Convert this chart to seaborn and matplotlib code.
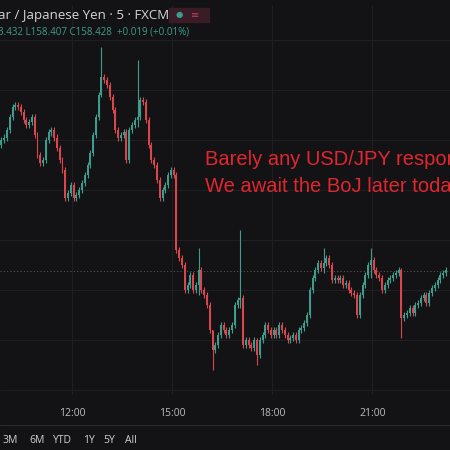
import numpy as np
import matplotlib.pyplot as plt
import seaborn as sns

# close prices of the 5 min bars (USD/JPY)
closes = [
    158.95, 158.96, 158.99, 159.04, 159.08, 159.09, 159.08, 159.06, 159.03, 159.01,
    159.02, 159.04, 158.97, 158.89, 158.86, 158.87, 158.95, 158.98, 158.99, 158.96,
    158.92, 158.87, 158.83, 158.72, 158.74, 158.77, 158.72, 158.73, 158.75, 158.78,
    158.81, 158.85, 158.90, 158.97, 159.04, 159.13, 159.20, 159.19, 159.17, 159.12,
    159.07, 158.99, 158.96, 158.97, 158.98, 158.87, 158.99, 159.01, 159.03, 159.04,
    159.11, 159.10, 159.03, 158.93, 158.87, 158.85, 158.79, 158.72, 158.75, 158.77,
    158.81, 158.83, 158.81, 158.51, 158.48, 158.45, 158.35, 158.37, 158.41, 158.35,
    158.37, 158.43, 158.35, 158.33, 158.29, 158.19, 158.11, 158.13, 158.17, 158.21,
    158.19, 158.17, 158.19, 158.21, 158.29, 158.31, 158.32, 158.13, 158.15, 158.13,
    158.12, 158.15, 158.09, 158.15, 158.17, 158.21, 158.19, 158.17, 158.19, 158.17,
    158.21, 158.19, 158.17, 158.15, 158.16, 158.17, 158.15, 158.19, 158.20, 158.22,
    158.25, 158.35, 158.40, 158.43, 158.46, 158.44, 158.46, 158.48, 158.45, 158.39,
    158.40, 158.39, 158.40, 158.37, 158.38, 158.35, 158.34, 158.33, 158.25, 158.33,
    158.37, 158.41, 158.45, 158.47, 158.43, 158.41, 158.40, 158.35, 158.37, 158.39,
    158.40, 158.41, 158.42, 158.43, 158.24, 158.25, 158.26, 158.28, 158.26, 158.29,
    158.30, 158.32, 158.33, 158.30, 158.34, 158.36, 158.37, 158.39, 158.41, 158.42,
    158.43,
]
first_open = 158.93
# bars with long wicks: index -> (high, low)
spikes = {36: (159.32, 159.12), 49: (159.27, 159.00), 71: (158.52, 158.33),
          86: (158.59, 158.28), 76: (158.19, 158.03), 116: (158.52, 158.42),
          133: (158.52, 158.40), 92: (158.16, 158.05), 144: (158.44, 158.16)}
last_price = 158.428
time_ticks = [25.5, 61.5, 97.5, 133.5]
time_labels = ["12:00", "15:00", "18:00", "21:00"]
range_buttons = ["3M", "6M", "YTD", "1Y", "5Y", "All"]

bg = "#131315"
up_col = "#3e9c8e"
down_col = "#d9464c"

sns.set_style("dark", {"axes.facecolor": bg, "figure.facecolor": bg})
plt.rcParams["font.family"] = ["Open Sans", "DejaVu Sans"]

fig = plt.figure(figsize=(4.5, 4.5), dpi=100)
ax = fig.add_axes([0, 0.122, 1, 0.867])
ax.set_facecolor(bg)

c = np.array(closes)
o = np.concatenate([[first_open], c[:-1]])
hi = np.maximum(o, c) + 0.012
lo = np.minimum(o, c) - 0.012
for k, (h, l) in spikes.items():
    hi[k] = h
    lo[k] = l
idx = np.arange(len(c))
cols = [up_col if cc >= oo else down_col for oo, cc in zip(o, c)]

for gy in np.arange(157.95, 159.5, 0.2):
    ax.axhline(gy, color="#1f1f23", lw=0.8, zorder=0)
for t in time_ticks:
    ax.axvline(t, color="#1f1f23", lw=0.8, zorder=0)
ax.axhline(last_price, color="#555558", lw=0.8, ls=(0, (1, 2)), zorder=0)

ax.vlines(idx, lo, hi, colors=cols, lw=0.8, zorder=2)
body = np.maximum(np.abs(c - o), 0.004)
ax.bar(idx, body, bottom=np.minimum(o, c), width=0.7, color=cols, zorder=3, linewidth=0)

ax.set_xlim(-0.5, 161.5)
ax.set_ylim(157.93, 159.49)
ax.set_xticks([])
ax.set_yticks([])
for s in ax.spines.values():
    s.set_visible(False)

# annotation (pixel coords from the bottom-left of the figure)
fig.text(205 / 450, 1 - 165 / 450, "Barely any USD/JPY response", color="#e0262e",
         fontsize=14.5, va="baseline", family=["Liberation Sans", "DejaVu Sans"])
fig.text(205 / 450, 1 - 192 / 450, "We await the BoJ later today", color="#e0262e",
         fontsize=14.5, va="baseline", family=["Liberation Sans", "DejaVu Sans"])

# header
fig.text(-0.005, 0.965, "ar / Japanese Yen · 5 · FXCM", color="#d6d6d6", fontsize=9.5, va="center")
fig.text(-0.005, 0.93, "3.432 L158.407 C158.428  +0.019 (+0.01%)", color="#3e9c8e", fontsize=7, va="center")
fig.patches.append(plt.Rectangle((0.375, 0.952), 0.09, 0.03, transform=fig.transFigure,
                                 color="#3a1c26", zorder=1))
fig.text(0.39, 0.966, "●", color="#3e9c8e", fontsize=6, va="center")
fig.text(0.425, 0.966, "≡", color="#c23b5a", fontsize=7, va="center")

# time axis
for t, lab in zip(time_ticks, time_labels):
    xf = (t + 0.5) / 162
    fig.text(xf, 0.082, lab, color="#bdbdbd", fontsize=7.5, ha="center", va="center")
fig.add_artist(plt.Line2D([0, 1], [0.055, 0.055], color="#2a2a2e", lw=0.8))
xs = [0.005, 0.065, 0.117, 0.185, 0.23, 0.278]
for xf, lab in zip(xs, range_buttons):
    fig.text(xf, 0.022, lab, color="#cfcfcf", fontsize=7.5, va="center")

fig.savefig("out.png", dpi=100, facecolor=bg)
